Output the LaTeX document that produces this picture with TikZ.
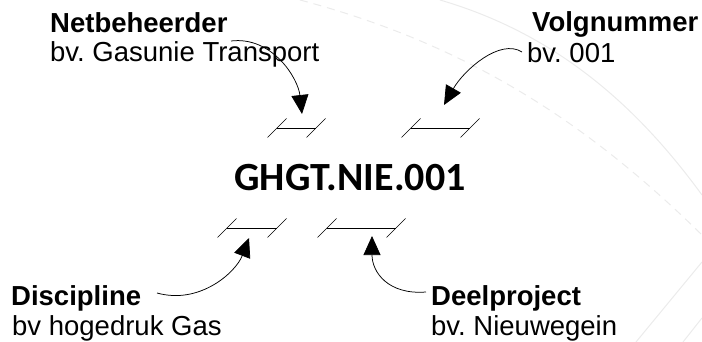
\documentclass[tikz,border=0pt]{standalone}
\usepackage{fontspec}
\setmainfont{Liberation Sans}
\newfontfamily\codefont{Carlito}
\usetikzlibrary{arrows.meta}
\frenchspacing

\tikzset{
  title/.style={anchor=base west, inner sep=0pt, font=\fontsize{27.5}{31}\selectfont\bfseries},
  example/.style={anchor=base west, inner sep=0pt, font=\fontsize{27.5}{31}\selectfont},
  code/.style={anchor=base, inner sep=0pt, font=\fontsize{40}{46}\codefont\bfseries},
  span/.style={line width=0.7pt, black},
  tick/.style={line width=0.7pt, black},
  pointer/.style={line width=0.75pt, black, -{Triangle[length=19pt,width=17pt]}},
  backdrop/.style={line width=1pt, black!8},
}

% a field marker: horizontal span with slanted end ticks
\newcommand{\fieldmark}[3]{% name, left point, right point
  \coordinate (#1L) at #2;
  \coordinate (#1R) at #3;
  \draw[span] (#1L) -- (#1R);
  \draw[tick] ([shift={(-9.5,9.5)}]#1L) -- ([shift={(9.5,-9.5)}]#1L);
  \draw[tick] ([shift={(-9.5,9.5)}]#1R) -- ([shift={(9.5,-9.5)}]#1R);
}

\begin{document}
\begin{tikzpicture}[x=1pt, y=-1pt]
  \useasboundingbox (0,0) rectangle (702,342);

  % faint background sweep
  \draw[backdrop] (440,0) .. controls (560,35) and (640,110) .. (702,195);
  \draw[backdrop, dashed, dash pattern=on 8pt off 6pt] (300,0) .. controls (470,45) and (590,125) .. (702,235);
  \draw[backdrop] (636,342) -- (702,262);
  \draw[backdrop] (683,342) -- (702,318);

  % central code
  \node[code] (code) at (350,190) {GHGT.NIE.001};

  % field markers
  \fieldmark{mNet}{(277,128)}{(316,128)}
  \fieldmark{mVolg}{(411,128)}{(470,128)}
  \fieldmark{mDisc}{(227,228)}{(277,228)}
  \fieldmark{mDeel}{(327,228)}{(396,228)}

  % labels
  \node[title]   (netT)  at (50,33)  {Netbeheerder};
  \node[example] (netS)  at (50,62)  {bv. Gasunie Transport};
  \node[title]   (volT)  at (532,32) {Volgnummer};
  \node[example] (volS)  at (527,63) {bv. 001};
  \node[title]   (discT) at (11,305) {Discipline};
  \node[example] (discS) at (12,335) {bv hogedruk Gas};
  \node[title]   (deelT) at (431,305) {Deelproject};
  \node[example] (deelS) at (431,335) {bv. Nieuwegein};

  % pointer ends
  \coordinate (netFrom)  at (231,41);
  \coordinate (netTo)    at (302,114);
  \coordinate (volFrom)  at (522,52);
  \coordinate (volTo)    at (444,105);
  \coordinate (discFrom) at (157,293);
  \coordinate (discTo)   at (249,238);
  \coordinate (deelFrom) at (426,292);
  \coordinate (deelTo)   at (372,236);

  % pointers
  \draw[pointer] (netFrom) .. controls (272,36) and (298,78) .. (netTo);
  \draw[pointer] (volFrom) .. controls (500,38) and (464,70) .. (volTo);
  \draw[pointer] (discFrom) .. controls (200,305) and (236,272) .. (discTo);
  \draw[pointer] (deelFrom) .. controls (388,295) and (372,272) .. (deelTo);
\end{tikzpicture}
\end{document}
